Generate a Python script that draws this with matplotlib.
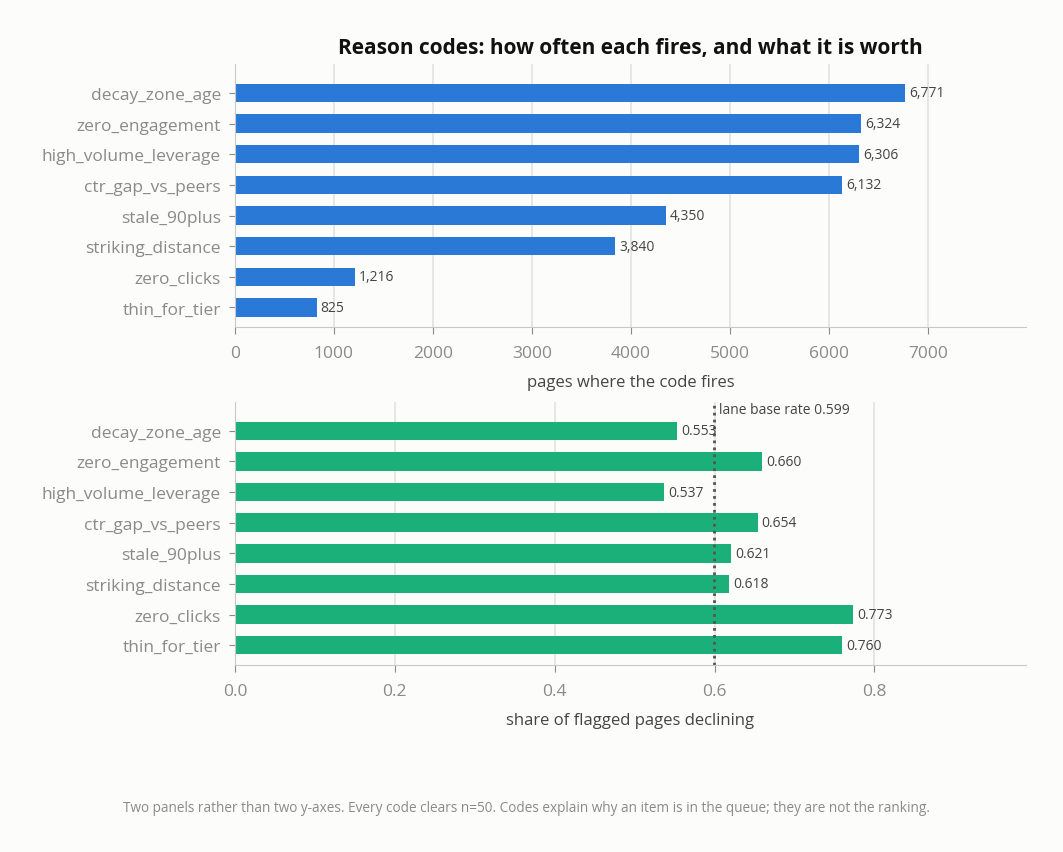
import matplotlib
matplotlib.use("Agg")
import matplotlib.pyplot as plt

codes = ["decay_zone_age", "zero_engagement", "high_volume_leverage", "ctr_gap_vs_peers",
         "stale_90plus", "striking_distance", "zero_clicks", "thin_for_tier"]
fires = [6771, 6324, 6306, 6132, 4350, 3840, 1216, 825]
decline_share = [0.553, 0.660, 0.537, 0.654, 0.621, 0.618, 0.773, 0.760]
base_rate = 0.599

BG = "#fcfcfb"
BLUE = "#2b79d6"
GREEN = "#1bb07a"
TICK = "#8a8a8a"
SPINE = "#c8c8c8"

plt.rcParams["font.family"] = ["Open Sans", "DejaVu Sans"]

fig = plt.figure(figsize=(10.63, 8.53), dpi=100, facecolor=BG)
ax1 = fig.add_axes([0.221, 0.615, 0.744, 0.309])
ax2 = fig.add_axes([0.221, 0.219, 0.744, 0.309])


def style(ax):
    ax.set_facecolor(BG)
    for s in ("top", "right"):
        ax.spines[s].set_visible(False)
    for s in ("left", "bottom"):
        ax.spines[s].set_color(SPINE)
    ax.grid(axis="x", color="#e2e2e0", linewidth=1.2)
    ax.set_axisbelow(True)
    ax.tick_params(colors=TICK, labelsize=12.5)
    ax.tick_params(axis="y", length=4, pad=6)
    ax.tick_params(axis="x", length=5, pad=8)


ypos = range(len(codes))

ax1.barh(ypos, fires, height=0.6, color=BLUE)
ax1.set_yticks(list(ypos))
ax1.set_yticklabels(codes)
ax1.set_xlim(0, max(fires) * 1.18)
style(ax1)
ax1.set_ylim(len(codes) - 0.35, -0.95)
for y, v in zip(ypos, fires):
    ax1.text(v + 40, y, f"{v:,}", va="center", ha="left", fontsize=10, color="#444444")
ax1.set_xlabel("pages where the code fires", fontsize=12, color="#444444", labelpad=9)
ax1.set_title("Reason codes: how often each fires, and what it is worth",
              fontsize=15, fontweight="bold", color="#111111", pad=8)

ax2.barh(ypos, decline_share, height=0.6, color=GREEN)
ax2.set_yticks(list(ypos))
ax2.set_yticklabels(codes)
ax2.set_xlim(0, max(decline_share) * 1.28)
style(ax2)
ax2.set_ylim(len(codes) - 0.35, -0.95)
for y, v in zip(ypos, decline_share):
    ax2.text(v + 0.005, y, f"{v:.3f}", va="center", ha="left", fontsize=10, color="#444444")
ax2.axvline(base_rate, color="#555555", linestyle=(0, (1, 1.5)), linewidth=2)
ax2.text(base_rate + 0.006, -0.95, f"lane base rate {base_rate:.3f}", va="top", ha="left",
         fontsize=10, color="#444444")
ax2.set_xlabel("share of flagged pages declining", fontsize=12, color="#444444", labelpad=9)

fig.text(0.495, 0.052, "Two panels rather than two y-axes. Every code clears n=50. Codes explain "
         "why an item is in the queue; they are not the ranking.",
         ha="center", va="center", fontsize=9.8, color=TICK)

fig.savefig("out.png", dpi=100, facecolor=BG)
